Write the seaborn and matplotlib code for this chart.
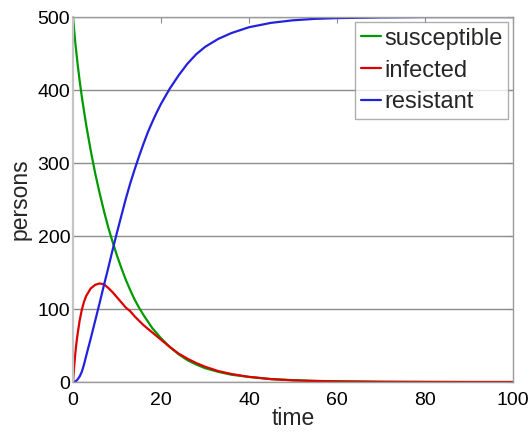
import matplotlib
matplotlib.use("Agg")
import matplotlib.pyplot as plt
import seaborn as sns
import pandas as pd

time = [0, 0.25, 0.5, 0.75, 1, 1.5, 2, 2.5, 3, 4, 5, 6, 7, 8, 9, 10, 11, 12, 13, 14,
        15, 16, 17, 18, 19, 20, 22, 24, 26, 28, 30, 33, 36, 40, 45, 50, 55, 60, 70, 80, 90, 100]
susceptible = [500, 483, 466, 452, 438, 413, 391, 371, 352, 318, 287, 260, 235, 212, 192, 173,
               156, 140, 126, 113, 102, 92, 83, 74, 67, 60, 48, 38, 30, 24, 19, 14, 10, 7, 4,
               2.5, 1.5, 1, 0.3, 0.1, 0, 0]
infected = [0, 20, 38, 52, 64, 84, 99, 110, 118, 128, 133, 135, 134, 129, 123, 116, 109, 102,
            97, 90, 84, 78, 73, 68, 63, 58, 48, 39, 32, 26, 21, 15, 11, 7, 4, 2.3, 1.4, 0.8,
            0.3, 0.1, 0, 0]
resistant = [0, 0.2, 0.8, 1.8, 3.2, 7.5, 14, 24, 36, 59, 83, 107, 132, 156, 181, 205, 228, 251,
             272, 291, 309, 326, 342, 356, 369, 381, 402, 420, 436, 449, 459, 470, 478, 486,
             492, 495.5, 497.5, 498.5, 499.5, 500, 500, 500]
series_names = ["susceptible", "infected", "resistant"]
colors = ["#009a00", "#dd0000", "#2222dd"]

df = pd.concat([
    pd.DataFrame({"time": time, "persons": vals, "group": name})
    for name, vals in zip(series_names, [susceptible, infected, resistant])
])

sns.set_style("white")
plt.rcParams["font.family"] = ["Liberation Sans", "DejaVu Sans"]

fig = plt.figure(figsize=(5.31, 4.32), dpi=100)
ax = fig.add_axes([0.1375, 0.1157, 0.8285, 0.8449])

sns.lineplot(data=df, x="time", y="persons", hue="group", hue_order=series_names,
             palette=colors, linewidth=1.6, ax=ax, sort=False, estimator=None)

ax.set_xlim(0, 100)
ax.set_ylim(0, 500)
ax.set_xticks([0, 20, 40, 60, 80, 100])
ax.set_yticks([0, 100, 200, 300, 400, 500])
ax.yaxis.grid(True, color="#8c8c8c", linewidth=1.0)
ax.xaxis.grid(False)
ax.set_axisbelow(True)
for s in ax.spines.values():
    s.set_visible(True)
    s.set_color("#9a9a9a")
    s.set_linewidth(1.0)
ax.spines["left"].set_color("#c4c4c4")
ax.spines["left"].set_linewidth(1.6)
ax.tick_params(axis="both", direction="in", length=4, color="#8c8c8c",
               labelsize=14, top=True, right=True, labelcolor="black")
ax.tick_params(axis="x", pad=7)
ax.tick_params(axis="y", pad=2)
ax.set_xlabel("time", fontsize=16.5, labelpad=-1)
ax.set_ylabel("persons", fontsize=16.5, labelpad=4)

leg = ax.legend(loc="upper right", fontsize=17, frameon=True, fancybox=False,
                edgecolor="#9a9a9a", handlelength=0.85, handletextpad=0.12,
                labelspacing=0.42, borderaxespad=0.2, borderpad=0.25)
leg.get_frame().set_linewidth(1.0)

fig.savefig("out.png", dpi=100)
